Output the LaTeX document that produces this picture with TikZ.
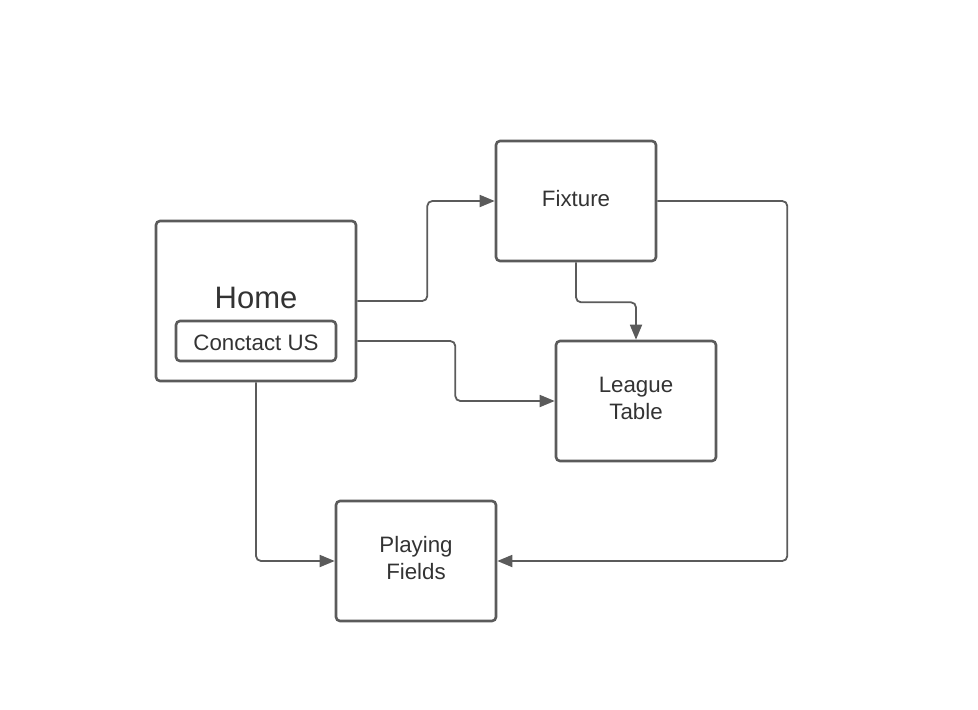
\documentclass[tikz,border=0pt]{standalone}
\usepackage{fontspec}
\setmainfont{Liberation Sans}
\usetikzlibrary{arrows.meta}

\definecolor{edgegray}{HTML}{5B5B5B}
\definecolor{textgray}{HTML}{333333}

\begin{document}
\begin{tikzpicture}[x=1pt, y=-1pt,
        page/.style={draw=edgegray, line width=2.6pt, rounded corners=4pt,
            minimum width=160pt, minimum height=120pt, inner sep=0pt},
        pagetext/.style={text=textgray, align=center, inner sep=0pt,
            font=\fontsize{22.3}{27}\selectfont},
        link/.style={draw=edgegray, line width=1.8pt, rounded corners=5pt,
            -{Triangle[length=15pt, width=12pt]}}]
        \useasboundingbox (0,0) rectangle (978,710);

        % Pages
        \node[page, minimum width=200pt, minimum height=160pt] (home) at (256,301) {};
        \node[page, minimum width=160pt, minimum height=40pt] (contact) at (256,341) {};
        \node[page] (fixture) at (576,201) {};
        \node[page] (league) at (636,401) {};
        \node[page] (playing) at (416,561) {};

        % Texts
        \node[pagetext, font=\fontsize{31}{36}\selectfont] (hometext) at ([yshift=3pt]home.center) {Home};
        \node[pagetext] (contacttext) at ([yshift=-2pt]contact.center) {Conctact US};
        \node[pagetext] (fixturetext) at ([yshift=2pt]fixture.center) {Fixture};
        \node[pagetext] (leaguetext) at ([yshift=3pt]league.center) {League\\Table};
        \node[pagetext] (playingtext) at ([yshift=3pt]playing.center) {Playing\\Fields};

        % Links
        \coordinate (homecontact) at (home.east |- contact.east);
        \draw[link] (home.east) -- ++(70,0) |- (fixture.west);
        \draw[link] (homecontact) -- ++(98,0) |- (league.west);
        \draw[link] (fixture.south) -- ++(0,40) -| (league.north);
        \draw[link] (fixture.east) -- ++(130,0) |- (playing.east);
        \draw[link] (home.south) |- (playing.west);
        \end{tikzpicture}
\end{document}
